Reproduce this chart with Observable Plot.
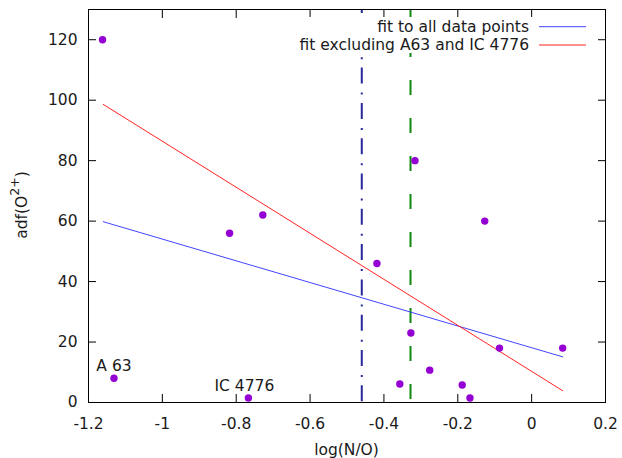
<!DOCTYPE html>
<html><head><meta charset="utf-8">
<script src="https://cdn.jsdelivr.net/npm/d3@7"></script>
<script src="https://cdn.jsdelivr.net/npm/@observablehq/plot@0.6"></script>
<style>body{margin:0;background:#fff}</style>
</head><body><div id="chart"></div>
<script>
// Data points
const logNO = [-1.162, -1.131, -0.767, -0.818, -0.728, -0.419, -0.316, -0.127, -0.327, -0.087, 0.084, -0.276, -0.357, -0.188, -0.167];
const adf   = [120, 8, 1.5, 56, 62, 46, 80, 60, 23, 18, 18, 10.7, 6.1, 5.8, 1.5];
const names = ["", "A 63", "IC 4776", "", "", "", "", "", "", "", "", "", "", "", ""];
// Fit lines (endpoints)
const fitX = [-1.16, 0.084];
const fitAllY = [59.8, 15.1];
const fitExclY = [98.6, 3.9];
// Vertical reference lines
const vlineDashDot = [-0.46];
const vlineDashed = [-0.328];
// Ticks
const xTicks = [-1.2, -1, -0.8, -0.6, -0.4, -0.2, 0, 0.2];
const yTicks = [0, 20, 40, 60, 80, 100, 120];
const legendLabels = ["fit to all data points", "fit excluding A63 and IC 4776"];
const legendColors = ["#4444ff", "#ff2222"];
const xLabel = "log(N/O)";
const yLabelParts = ["adf(O", "2+", ")"];

const pts = logNO.map((x, i) => ({x, y: adf[i], name: names[i]}));
const fitAll = fitX.map((x, i) => ({x, y: fitAllY[i]}));
const fitExcl = fitX.map((x, i) => ({x, y: fitExclY[i]}));

const FONT = "DejaVu Sans";
const FS = 15.5;
const fmt = d => String(d);

const plot = Plot.plot({
  width: 622, height: 458,
  marginLeft: 88, marginRight: 17, marginTop: 9, marginBottom: 56,
  style: {fontFamily: FONT, fontSize: FS + "px", color: "#1a1a1a", background: "white"},
  x: {domain: [-1.2, 0.2], axis: null},
  y: {domain: [0, 130], axis: null},
  marks: [
    Plot.ruleX(vlineDashDot, {stroke: "#28289a", strokeWidth: 2, strokeDasharray: "16,9,2,8.3", strokeDashoffset: 12}),
    Plot.ruleX(vlineDashed, {stroke: "#0f8a0f", strokeWidth: 2, strokeDasharray: "15,23", strokeDashoffset: 5}),
    Plot.line(fitAll, {x: "x", y: "y", stroke: legendColors[0], strokeWidth: 1}),
    Plot.line(fitExcl, {x: "x", y: "y", stroke: legendColors[1], strokeWidth: 1}),
    Plot.dot(pts, {x: "x", y: "y", r: 3.7, fill: "#9400d3", stroke: null}),
    Plot.text(pts.filter(d => d.name === "A 63"), {x: "x", y: "y", text: "name", dy: -12, fill: "#1a1a1a", fontSize: FS}),
    Plot.text(pts.filter(d => d.name === "IC 4776"), {x: "x", y: "y", text: "name", dx: -4, dy: -12, fill: "#1a1a1a", fontSize: FS}),
    Plot.axisX(xTicks, {anchor: "bottom", tickSize: -8, tickPadding: 23.5, tickFormat: fmt, label: null, fontSize: FS, stroke: "black"}),
    Plot.axisX(xTicks, {anchor: "top", tickSize: -8, tickFormat: () => "", label: null, stroke: "black"}),
    Plot.axisY(yTicks, {anchor: "left", tickSize: -8, tickPadding: 19, tickFormat: fmt, label: null, fontSize: FS, stroke: "black"}),
    Plot.axisY(yTicks, {anchor: "right", tickSize: -8, tickFormat: () => "", label: null, stroke: "black"}),
    Plot.frame({stroke: "black"})
  ]
});
document.getElementById("chart").appendChild(plot);

const svg = d3.select(plot);
// X-axis title
svg.append("text").attr("x", 346.5).attr("y", 454.5).attr("text-anchor", "middle")
  .attr("font-family", FONT).attr("font-size", FS).attr("fill", "#1a1a1a").text(xLabel);
// Y-axis title with superscript
const yl = svg.append("text")
  .attr("transform", "translate(26.7,205) rotate(-90)")
  .attr("text-anchor", "middle").attr("font-family", FONT).attr("font-size", FS).attr("fill", "#1a1a1a");
yl.append("tspan").text(yLabelParts[0]);
yl.append("tspan").attr("font-size", 12.5).attr("dy", -7.5).text(yLabelParts[1]);
yl.append("tspan").attr("dy", 7.5).text(yLabelParts[2]);

// Opaque key box
const g = svg.append("g").attr("font-family", FONT).attr("font-size", FS);
g.append("rect").attr("x", 292).attr("y", 17).attr("width", 302).attr("height", 36).attr("fill", "white");
legendLabels.forEach((lab, i) => {
  const cy = 26.7 + i * 18.3;
  g.append("text").attr("x", 529).attr("y", cy).attr("dy", "0.35em").attr("text-anchor", "end").attr("fill", "#1a1a1a").text(lab);
  g.append("line").attr("x1", 539).attr("x2", 586).attr("y1", cy).attr("y2", cy).attr("stroke", legendColors[i]).attr("stroke-width", 1);
});
</script>
</body></html>
